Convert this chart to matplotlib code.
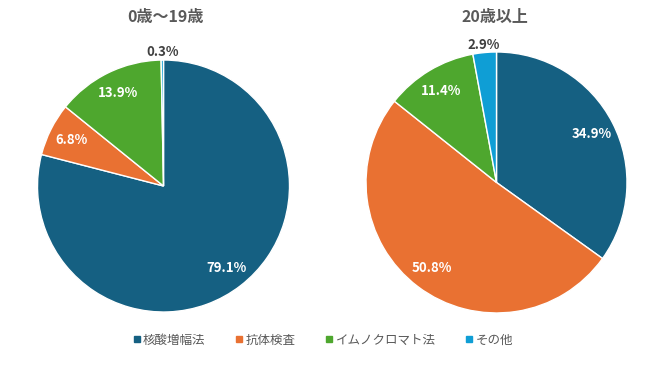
import matplotlib
matplotlib.use("Agg")
import matplotlib.pyplot as plt
from matplotlib.lines import Line2D

plt.rcParams['font.family'] = ['Noto Sans CJK JP', 'DejaVu Sans']

# data
categories = ['核酸増幅法', '抗体検査', 'イムノクロマト法', 'その他']
titles = ['0歳～19歳', '20歳以上']
young = [79.1, 6.8, 13.9, 0.3]
adult = [34.9, 50.8, 11.4, 2.9]
colors = ['#156082', '#E97132', '#4EA72E', '#0F9ED5']

grey = '#595959'

fig = plt.figure(figsize=(6.5, 3.65), dpi=100)

# axes rectangles so the two pies sit where the original ones do
rects = [[0.0577, 0.1452, 0.3877, 0.6904],
         [0.5631, 0.1425, 0.4015, 0.7151]]
title_x = [0.254, 0.762]

for vals, rect, ttl, tx in zip([young, adult], rects, titles, title_x):
    ax = fig.add_axes(rect)
    # label with the published values (they add up to 100.1, not 100)
    it = iter(vals)
    wedges, texts, autotexts = ax.pie(
        vals, colors=colors, startangle=90, counterclock=False,
        autopct=lambda p: '%.1f%%' % next(it), pctdistance=0.82,
        wedgeprops=dict(edgecolor='white', linewidth=1.0),
        textprops=dict(fontsize=9.5, fontweight='bold', color='white'))
    # small slices get their label outside, in grey
    for v, w, t in zip(vals, wedges, autotexts):
        if v < 5:
            x, y = t.get_position()
            d = (x * x + y * y) ** 0.5
            t.set_position((x / d * 1.06, y / d * 1.06))
            t.set_color('#404040')
    ax.set_xlim(-1, 1)
    ax.set_ylim(-1, 1)
    ax.set_aspect('equal')
    ax.axis('off')
    fig.text(tx, 0.953, ttl, ha='center', va='center', fontsize=11.5,
             fontweight='bold', color=grey)

handles = [Line2D([], [], marker='s', linestyle='none', markersize=5,
                  markerfacecolor=c, markeredgecolor=c) for c in colors]
fig.legend(handles, categories, loc='center', bbox_to_anchor=(0.497, 0.068),
           ncol=4, frameon=False, fontsize=9, labelcolor=grey,
           handlelength=0.6, handletextpad=0.2, columnspacing=2.4)

fig.savefig('out.png', dpi=100, facecolor='white')
